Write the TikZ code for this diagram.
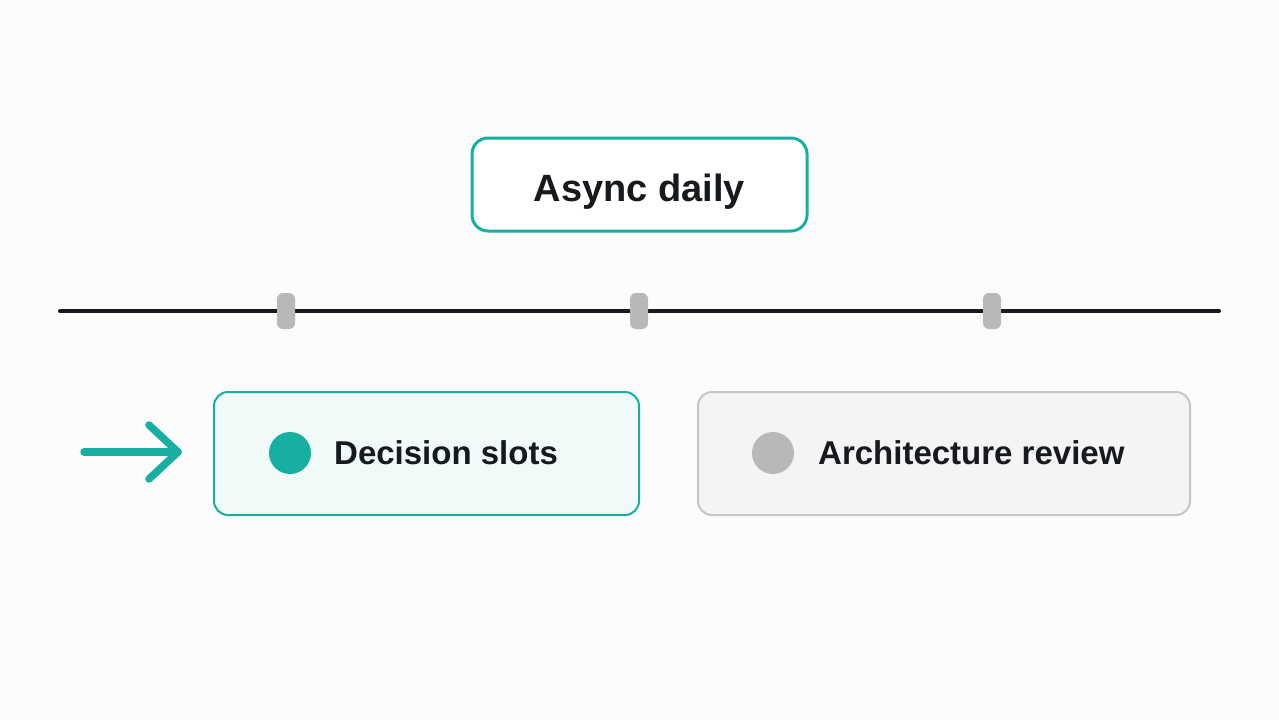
\documentclass[tikz,border=0pt]{standalone}
\usepackage{fontspec}
\setmainfont{Liberation Sans}
\definecolor{teal1}{HTML}{17AFA2}
\definecolor{tealbg}{HTML}{F0FAF9}
\definecolor{greybg}{HTML}{F4F4F4}
\definecolor{greyln}{HTML}{C6C6C6}
\definecolor{greydot}{HTML}{B8B8B8}
\definecolor{ink}{HTML}{16191D}
\definecolor{bgc}{HTML}{FCFCFC}
\tikzset{
  titlebox/.style={draw=teal1, line width=3pt, fill=white, rounded corners=16pt, minimum width=335pt, minimum height=93pt},
  titletext/.style={font=\fontsize{38}{44}\selectfont\bfseries, text=ink, anchor=base, inner sep=0pt},
  activebox/.style={draw=teal1, line width=2pt, fill=tealbg, rounded corners=14pt, minimum width=425pt, minimum height=123pt},
  idlebox/.style={draw=greyln, line width=2pt, fill=greybg, rounded corners=14pt, minimum width=492pt, minimum height=123pt},
  lbl/.style={font=\fontsize{33}{38}\selectfont\bfseries, text=ink, anchor=west, inner sep=0pt},
  tick/.style={fill=greydot, draw=none, rounded corners=6pt, minimum width=18pt, minimum height=36pt, inner sep=0pt},
  dotm/.style={circle, inner sep=0pt, minimum size=42pt, draw=none},
}
\begin{document}
\begin{tikzpicture}[x=1pt,y=-1pt]
\fill[bgc] (0,0) rectangle (1279,720);
\useasboundingbox (0,0) rectangle (1279,720);
\node[titlebox] (title) at (639.5,184.5) {};
\node[titletext] (titlet) at (639.5,201) {Async daily};
\coordinate (tl0) at (60,311);
\coordinate (tl1) at (1219,311);
\draw[ink, line width=4pt, line cap=round] (tl0) -- (tl1);
\node[tick] (t1) at (286,311) {};
\node[tick] (t2) at (639,311) {};
\node[tick] (t3) at (992,311) {};
\node[activebox] (b1) at (426.5,453.5) {};
\node[idlebox] (b2) at (944,453.5) {};
\node[dotm, fill=teal1] (d1) at (290,453) {};
\node[dotm, fill=greydot] (d2) at (773,453) {};
\node[lbl] (l1) at (334,453) {Decision slots};
\node[lbl] (l2) at (818,453) {Architecture review};
\coordinate (a0) at (84,452);
\coordinate (a1) at (178,452);
\coordinate (ah1) at (149,425);
\coordinate (ah2) at (149,479);
\draw[teal1, line width=7.5pt, line cap=round, line join=round] (a0) -- (a1);
\draw[teal1, line width=7.5pt, line cap=round, line join=round] (ah1) -- (a1) -- (ah2);
\end{tikzpicture}
\end{document}
